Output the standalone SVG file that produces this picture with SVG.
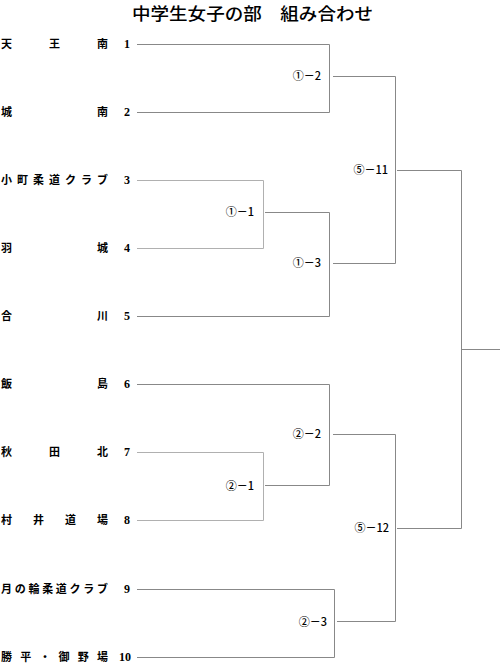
<svg xmlns="http://www.w3.org/2000/svg" width="500" height="663" viewBox="0 0 500 663">
<style>
.name{font-family:"Noto Sans CJK JP","Noto Sans CJK SC",sans-serif;font-size:11px;font-weight:bold;fill:#000}
.num{font-family:"Liberation Serif",serif;font-size:12px;font-weight:bold;fill:#000;text-anchor:end}
.lbl{font-family:"Noto Sans CJK JP","Noto Sans",sans-serif;font-size:11px;font-weight:500;fill:#000;text-anchor:end}
.title{font-family:"Noto Sans CJK JP",sans-serif;font-size:17px;font-weight:500;fill:#000}
.ln{stroke:#888;stroke-width:1;fill:none}
.lt{stroke:#b0b0b0;stroke-width:1;fill:none}
</style>
<rect width="500" height="663" fill="#fff"/>
<text class="title" x="132" y="20" textLength="241" lengthAdjust="spacingAndGlyphs">中学生女子の部　組み合わせ</text>

<g id="team1"><text class="name" x="1" y="48" textLength="107" lengthAdjust="spacing">天王南</text><text class="num" x="130" y="48">1</text></g>
<g id="team2"><text class="name" x="1" y="116" textLength="107" lengthAdjust="spacing">城南</text><text class="num" x="130" y="116">2</text></g>
<g id="team3"><text class="name" x="1" y="184" textLength="107" lengthAdjust="spacing">小町柔道クラブ</text><text class="num" x="130" y="184">3</text></g>
<g id="team4"><text class="name" x="1" y="252" textLength="107" lengthAdjust="spacing">羽城</text><text class="num" x="130" y="252">4</text></g>
<g id="team5"><text class="name" x="1" y="320" textLength="107" lengthAdjust="spacing">合川</text><text class="num" x="130" y="320">5</text></g>
<g id="team6"><text class="name" x="1" y="388" textLength="107" lengthAdjust="spacing">飯島</text><text class="num" x="130" y="388">6</text></g>
<g id="team7"><text class="name" x="1" y="456" textLength="107" lengthAdjust="spacing">秋田北</text><text class="num" x="130" y="456">7</text></g>
<g id="team8"><text class="name" x="1" y="524" textLength="107" lengthAdjust="spacing">村井道場</text><text class="num" x="130" y="524">8</text></g>
<g id="team9"><text class="name" x="1" y="593" textLength="107" lengthAdjust="spacing">月の輪柔道クラブ</text><text class="num" x="130" y="593">9</text></g>
<g id="team10"><text class="name" x="1" y="661" textLength="107" lengthAdjust="spacing">勝平・御野場</text><text class="num" x="131" y="661">10</text></g>

<g id="m1-1"><text class="lbl" x="254" y="216">①－1</text></g>
<g id="m1-2"><text class="lbl" x="321" y="80">①－2</text></g>
<g id="m1-3"><text class="lbl" x="321" y="267">①－3</text></g>
<g id="m2-1"><text class="lbl" x="254" y="490">②－1</text></g>
<g id="m2-2"><text class="lbl" x="321" y="438">②－2</text></g>
<g id="m2-3"><text class="lbl" x="327" y="626">②－3</text></g>
<g id="m5-11"><text class="lbl" x="388" y="174">⑤－11</text></g>
<g id="m5-12"><text class="lbl" x="389" y="532">⑤－12</text></g>

<g id="connectors">
<path class="ln" d="M137 44.5H329.5V112.5H137"/>
<path class="lt" d="M137 180.5H263.5V248.5H137"/>
<path class="ln" d="M265 212.5H329.5V316.5H137"/>
<path class="ln" d="M333 76.5H395.5V263.5H333"/>
<path class="ln" d="M397 170.5H461.5V528.5H397"/>
<path class="ln" d="M461.5 349.5H500"/>
<path class="ln" d="M137 384.5H329.5V485.5H265"/>
<path class="lt" d="M137 452.5H263.5V520.5H137"/>
<path class="ln" d="M333 434.5H395.5V621.5H337"/>
<path class="ln" d="M137 589.5H334.5V657.5H137"/>
</g>
</svg>
